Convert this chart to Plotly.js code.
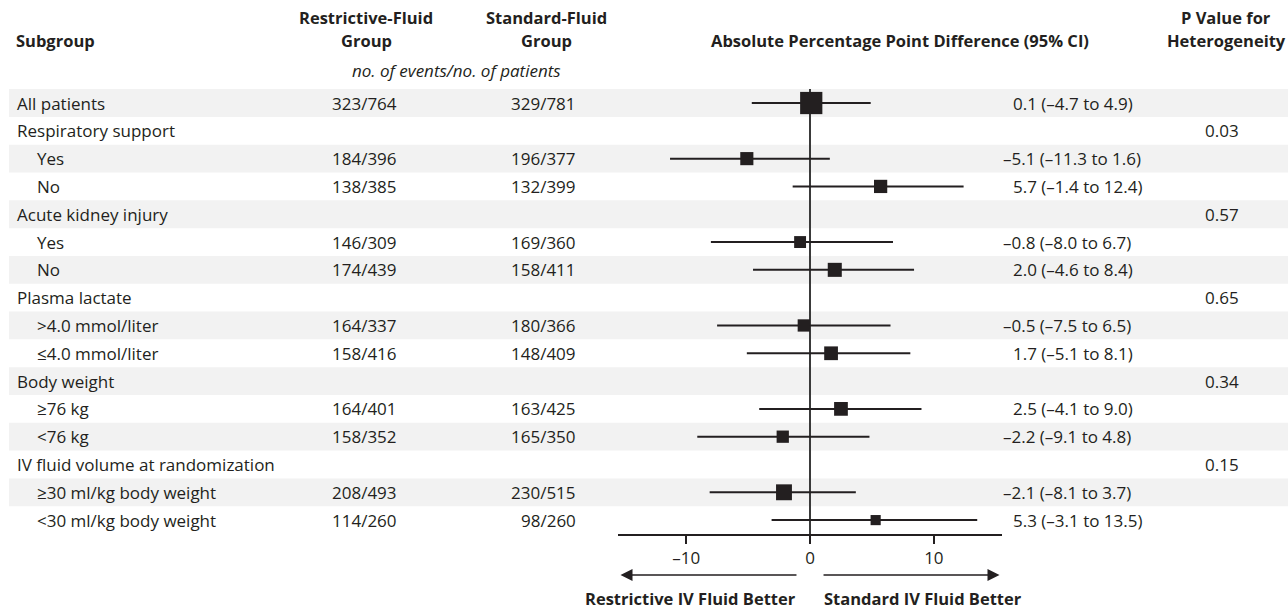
<!DOCTYPE html>
<html>
<head>
<meta charset="utf-8">
<script src="https://cdn.plot.ly/plotly-3.0.1.min.js"></script>
<style>html,body{margin:0;padding:0;background:#fff;}#chart{width:1288px;height:611px;}</style>
</head>
<body>
<div id="chart"></div>
<script>
// ---- data ----
const subgroups = ["All patients","Respiratory support","Yes","No","Acute kidney injury","Yes","No","Plasma lactate",">4.0 mmol/liter","\u22644.0 mmol/liter","Body weight","\u226576 kg","<76 kg","IV fluid volume at randomization","\u226530 ml/kg body weight","<30 ml/kg body weight"];
const isSubRow = [false,false,true,true,false,true,true,false,true,true,false,true,true,false,true,true];
const restrictiveGroup = ["323/764","","184/396","138/385","","146/309","174/439","","164/337","158/416","","164/401","158/352","","208/493","114/260"];
const standardGroup = ["329/781","","196/377","132/399","","169/360","158/411","","180/366","148/409","","163/425","165/350","","230/515","98/260"];
const difference = [0.1,null,-5.1,5.7,null,-0.8,2.0,null,-0.5,1.7,null,2.5,-2.2,null,-2.1,5.3];
const ciLower = [-4.7,null,-11.3,-1.4,null,-8.0,-4.6,null,-7.5,-5.1,null,-4.1,-9.1,null,-8.1,-3.1];
const ciUpper = [4.9,null,1.6,12.4,null,6.7,8.4,null,6.5,8.1,null,9.0,4.8,null,3.7,13.5];
const pHeterogeneity = ["","0.03","","","0.57","","","0.65","","","0.34","","","0.15","",""];
const xTickVals = [-10,0,10];
const xTickText = ["\u201310","0","10"];

// ---- helpers ----
const W = 1288, H = 611, MB = 77, PH = H - MB;
const ink = "#231f20";
const FONT = "Open Sans, Noto Sans, sans-serif";
const HSIZE = 16.5;
const px = v => v / W;                 // pixel x -> paper
const py = v => (PH - v) / PH;         // pixel y -> paper
const fmt = v => (v < 0 ? "\u2013" : "") + Math.abs(v).toFixed(1);
const totalN = s => s ? parseInt(s.split("/")[1], 10) : 0;

const rows = subgroups.map((_, i) => i);
const dataRows = rows.filter(i => difference[i] !== null);

const trace = {
  type: "scatter", mode: "markers",
  x: dataRows.map(i => difference[i]),
  y: dataRows,
  marker: {
    symbol: "square", color: ink, opacity: 1, line: {width: 0},
    size: dataRows.map(i => 4 + 0.0118 * (totalN(restrictiveGroup[i]) + totalN(standardGroup[i])))
  },
  error_x: {
    type: "data", symmetric: false,
    array: dataRows.map(i => ciUpper[i] - difference[i]),
    arrayminus: dataRows.map(i => difference[i] - ciLower[i]),
    color: ink, thickness: 2, width: 0
  },
  hoverinfo: "skip"
};

const shapes = [];
rows.forEach(i => {
  if (i % 2 === 0) shapes.push({type: "rect", layer: "below", xref: "paper", yref: "y",
    x0: px(9), x1: 1, y0: i - 0.5, y1: i + 0.5, fillcolor: "#f2f2f2", line: {width: 0}});
});
shapes.push({type: "line", layer: "below", xref: "x", yref: "y", x0: 0, x1: 0, y0: -0.5, y1: 15.5,
  line: {color: "#3a3a3a", width: 2}});

const annotations = [];
const txt = (text, x, y, anchor) => annotations.push({
  text, x, y, xref: "paper", yref: "y", xanchor: anchor, yanchor: "middle", showarrow: false,
  font: {family: FONT, size: 17, color: ink}
});

rows.forEach(i => {
  txt(subgroups[i], px(isSubRow[i] ? 35 : 15), i, "left");
  if (restrictiveGroup[i]) txt(restrictiveGroup[i], px(399), i, "right");
  if (standardGroup[i]) txt(standardGroup[i], px(578), i, "right");
  if (difference[i] !== null)
    txt(fmt(difference[i]) + " (" + fmt(ciLower[i]) + " to " + fmt(ciUpper[i]) + ")",
        px(difference[i] < 0 ? 1001 : 1011), i, "left");
  if (pHeterogeneity[i]) txt(pHeterogeneity[i], px(1241), i, "right");
});

// headers
const hdr = (text, xpx, ypx, anchor, size) => annotations.push({
  text, x: px(xpx), y: py(ypx), xref: "paper", yref: "paper", xanchor: anchor, yanchor: "middle",
  showarrow: false, font: {family: FONT, size: size || HSIZE, color: ink}
});
hdr("<b>Subgroup</b>", 14, 41, "left");
hdr("<b>Restrictive-Fluid</b>", 366, 18, "center");
hdr("<b>Group</b>", 366, 41, "center");
hdr("<b>Standard-Fluid</b>", 546, 18, "center");
hdr("<b>Group</b>", 546, 41, "center");
hdr("<i>no. of events/no. of patients</i>", 456, 70, "center", 17);
hdr("<b>Absolute Percentage Point Difference (95% CI)</b>", 900, 41, "center");
hdr("<b>P Value for</b>", 1226, 18, "center");
hdr("<b>Heterogeneity</b>", 1226, 41, "center");

// direction arrows and labels
const arrowY = py(575);
annotations.push({x: -15.3, y: arrowY, xref: "x", yref: "paper", ax: -0.97, ay: 0, axref: "x", ayref: "pixel",
  text: "", showarrow: true, arrowhead: 2, arrowsize: 1.6, arrowwidth: 1.5, arrowcolor: ink});
annotations.push({x: 15.3, y: arrowY, xref: "x", yref: "paper", ax: 0.97, ay: 0, axref: "x", ayref: "pixel",
  text: "", showarrow: true, arrowhead: 2, arrowsize: 1.6, arrowwidth: 1.5, arrowcolor: ink});
hdr("<b>Restrictive IV Fluid Better</b>", 798, 598, "right");
hdr("<b>Standard IV Fluid Better</b>", 822, 598, "left");

const layout = {
  width: W, height: H,
  margin: {l: 0, r: 0, t: 0, b: MB, pad: 0},
  paper_bgcolor: "#fff", plot_bgcolor: "rgba(0,0,0,0)",
  showlegend: false,
  font: {family: FONT, size: 17, color: ink},
  xaxis: {
    domain: [px(618), px(1002)], range: [-15.5, 15.5],
    showline: true, linecolor: ink, linewidth: 2,
    ticks: "outside", ticklen: 8, tickwidth: 1.5, tickcolor: ink,
    tickvals: xTickVals, ticktext: xTickText,
    tickfont: {family: FONT, size: 17, color: ink},
    showgrid: false, zeroline: false, fixedrange: true
  },
  yaxis: {domain: [0, 1], range: [15.5, -3.705], visible: false, fixedrange: true},
  shapes, annotations
};

Plotly.newPlot("chart", [trace], layout, {displayModeBar: false, staticPlot: true});
</script>
</body>
</html>
